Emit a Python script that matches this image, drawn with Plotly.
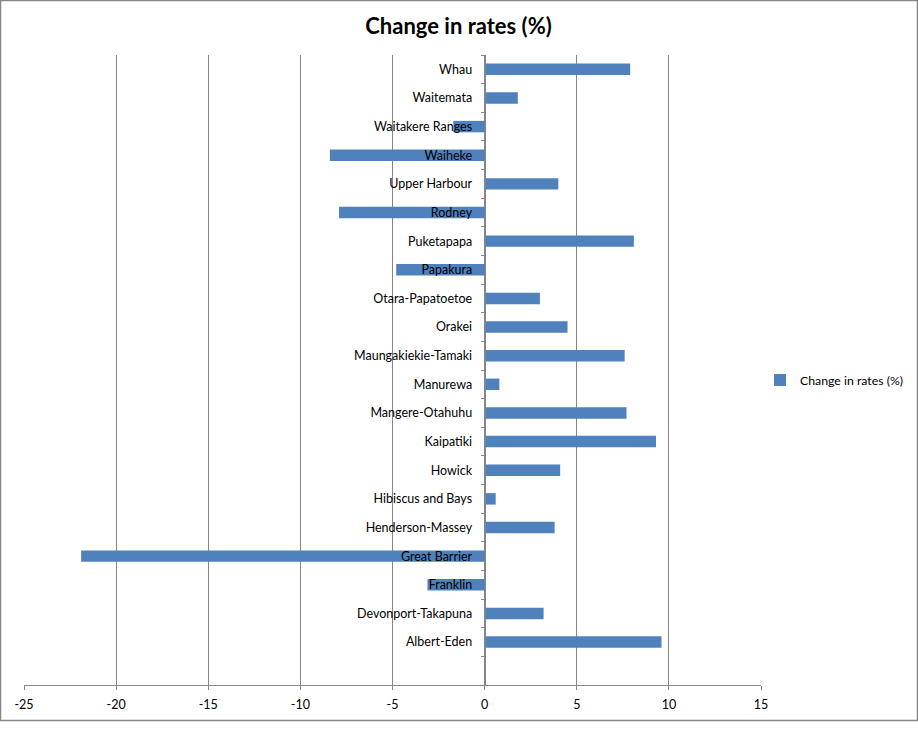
import plotly.graph_objs as go

# wards, bottom to top as in the chart
wards = ["Albert-Eden", "Devonport-Takapuna", "Franklin", "Great Barrier",
         "Henderson-Massey", "Hibiscus and Bays", "Howick", "Kaipatiki",
         "Mangere-Otahuhu", "Manurewa", "Maungakiekie-Tamaki", "Orakei",
         "Otara-Papatoetoe", "Papakura", "Puketapapa", "Rodney",
         "Upper Harbour", "Waiheke", "Waitakere Ranges", "Waitemata", "Whau"]
change_pct = [9.6, 3.2, -3.1, -21.9,
              3.8, 0.6, 4.1, 9.3,
              7.7, 0.8, 7.6, 4.5,
              3.0, -4.8, 8.1, -7.9,
              4.0, -8.4, -1.7, 1.8, 7.9]
x_ticks = [-25, -20, -15, -10, -5, 0, 5, 10, 15]
x_tick_labels = ["-25", "-20", "-15", "-10", "-5", "0", "5", "10", "15"]

W, H = 918, 731
L, R, T, B = 24, 157, 55, 46
pw, ph = W - L - R, H - T - B
grey = '#868686'
font_name = 'Lato, Carlito, Calibri, sans-serif'

trace1 = go.Bar(
    x=change_pct,
    y=wards,
    orientation='h',
    name='Change in rates (%)',
    width=0.4,
    marker=dict(color='#4F81BD', line=dict(width=0)),
)

# y axis sits on x = 0
zero_pos = (0 - x_ticks[0]) / (x_ticks[-1] - x_ticks[0])

layout = dict(
    title=dict(text='<b>Change in rates (%)</b>', x=(458.5 - L) / pw, xref='paper',
               y=1 - 26 / H, yanchor='middle',
               font=dict(size=22, color='black', family=font_name)),
    width=W, height=H,
    margin=dict(l=L, r=R, t=T, b=B, pad=0, autoexpand=False),
    paper_bgcolor='white', plot_bgcolor='white',
    font=dict(family=font_name, size=12.5, color='black'),
    xaxis=dict(range=[x_ticks[0], x_ticks[-1]], tickvals=x_ticks, ticktext=x_tick_labels,
               showgrid=True, gridcolor=grey, gridwidth=1,
               zeroline=False, showline=True, linecolor=grey, linewidth=1,
               ticks='outside', ticklen=4, tickcolor=grey,
               ticklabelstandoff=4, automargin=False, fixedrange=True),
    yaxis=dict(type='category', categoryorder='array', categoryarray=wards,
               range=[-1.5, len(wards) - 0.5],
               anchor='free', position=zero_pos,
               showgrid=False, zeroline=False,
               showline=True, linecolor=grey, linewidth=1,
               ticks='outside', tickson='boundaries', ticklen=4, tickcolor=grey,
               ticklabelstandoff=10, automargin=False, fixedrange=True),
    showlegend=True,
    legend=dict(x=(760 - L) / pw, y=1 - (380 - T) / ph, xanchor='left', yanchor='middle',
                font=dict(size=12.3), bgcolor='rgba(0,0,0,0)'),
    bargap=0.6,
)

fig = go.Figure(data=[trace1], layout=layout)

# chart area border like Excel
fig.add_shape(type='rect', xref='paper', yref='paper',
              x0=(0.5 - L) / pw, x1=(W - 0.5 - L) / pw,
              y0=(H - B - 720.5) / ph, y1=(H - B - 0.5) / ph,
              line=dict(color=grey, width=1.5), fillcolor='rgba(0,0,0,0)', layer='below')

fig.write_html("out.html", config={'displayModeBar': False},
               post_script="document.body.style.margin='0';")
